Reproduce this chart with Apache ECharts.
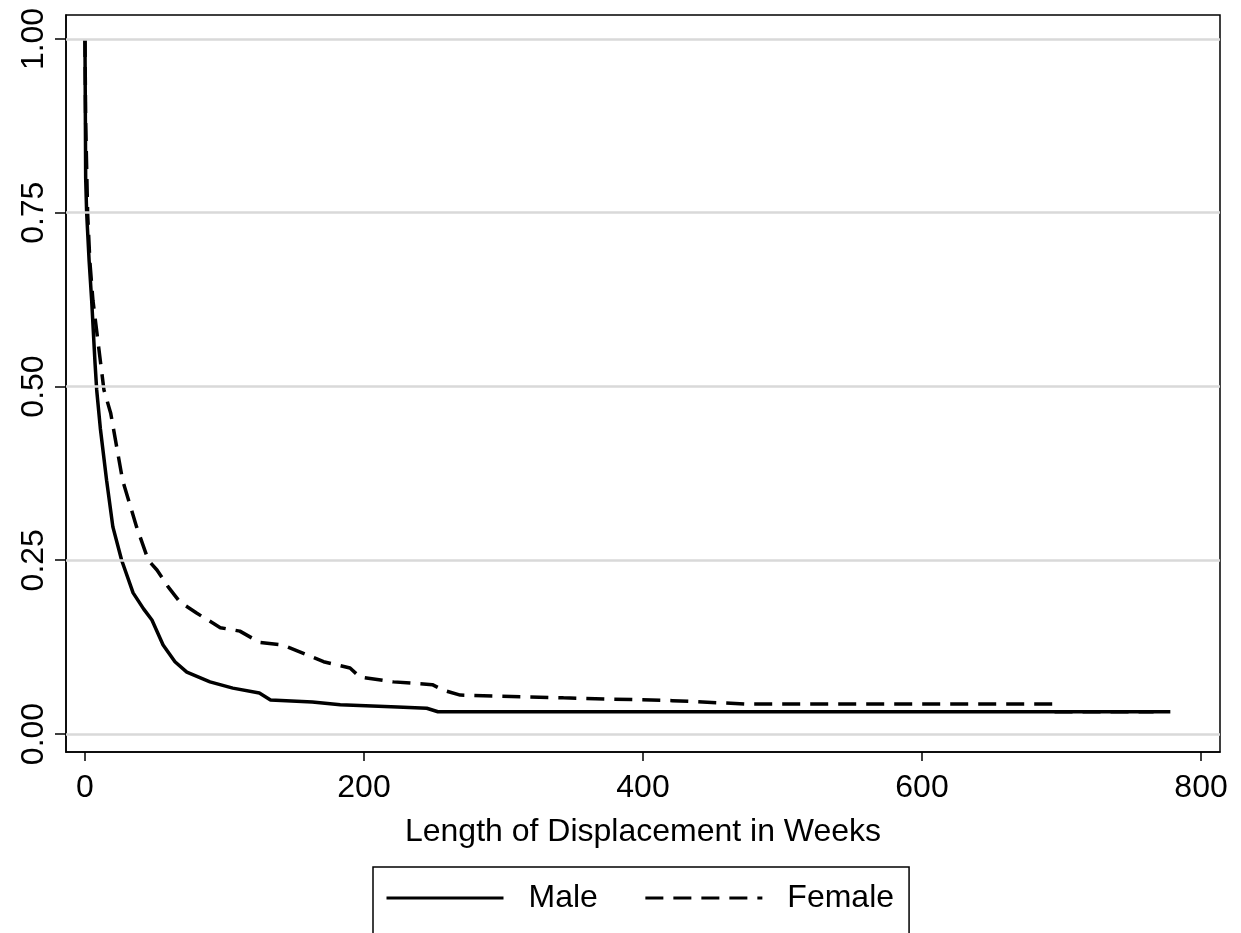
<!DOCTYPE html>
<html>
<head>
<meta charset="utf-8">
<script src="https://cdn.jsdelivr.net/npm/echarts@6/dist/echarts.min.js"></script>
<style>
html, body { margin: 0; padding: 0; background: #fff; }
#chart { width: 1241px; height: 933px; }
</style>
</head>
<body>
<div id="chart"></div>
<script>
// survival estimates (weeks, proportion)
var maleWeeks = [0, 0.5, 1.2, 3, 4.8, 7.2, 8.4, 11, 15.5, 20, 26.3, 34.5, 42, 48, 56, 64.5, 73, 89.6, 106, 125, 133, 163, 183, 224, 245, 253, 778];
var maleSurv  = [1, 0.8, 0.75, 0.68, 0.624, 0.534, 0.495, 0.44, 0.365, 0.298, 0.25, 0.203, 0.18, 0.164, 0.128, 0.104, 0.089, 0.075, 0.066, 0.059, 0.049, 0.046, 0.042, 0.039, 0.037, 0.032, 0.032];

var femaleWeeks = [0, 0.5, 1.9, 3.5, 5.7, 11.2, 13.6, 18.4, 27, 37, 45.4, 51.6, 59.5, 68, 80, 97, 111, 125, 142, 159, 171, 190, 197, 221, 235, 249, 257, 269, 343, 421, 476, 695, 695, 766];
var femaleSurv  = [1, 0.88, 0.75, 0.68, 0.624, 0.534, 0.495, 0.462, 0.365, 0.298, 0.25, 0.236, 0.212, 0.19, 0.174, 0.153, 0.148, 0.132, 0.128, 0.114, 0.104, 0.095, 0.082, 0.075, 0.073, 0.071, 0.063, 0.056, 0.052, 0.048, 0.043, 0.043, 0.032, 0.032];

var xTicks = [0, 200, 400, 600, 800];
var yTicks = [0, 0.25, 0.5, 0.75, 1];

function pairs(xs, ys) {
  var out = [];
  for (var i = 0; i < xs.length; i++) out.push([xs[i], ys[i]]);
  return out;
}

var font = 'Liberation Sans, Arial, sans-serif';
var chart = echarts.init(document.getElementById('chart'));

chart.setOption({
  animation: false,
  backgroundColor: '#fff',
  grid: {
    left: 66, right: 21, top: 15, bottom: 181,
    show: true, borderColor: '#000', borderWidth: 1.5
  },
  xAxis: {
    type: 'value',
    min: -13.6, max: 813.6,
    name: 'Length of Displacement in Weeks',
    nameLocation: 'middle',
    nameGap: 64,
    nameTextStyle: { fontSize: 32, color: '#000', fontFamily: font },
    axisLine: { show: true, onZero: false, lineStyle: { color: '#000', width: 1.5 } },
    axisTick: {
      show: true, inside: false, length: 9, lineStyle: { color: '#000', width: 1.5 },
      customValues: xTicks
    },
    axisLabel: {
      fontSize: 32, color: '#000', fontFamily: font, margin: 20,
      customValues: xTicks
    },
    splitLine: { show: false }
  },
  yAxis: {
    type: 'value',
    min: -0.0259, max: 1.0345,
    axisLine: { show: true, onZero: false, lineStyle: { color: '#000', width: 1.5 } },
    axisTick: {
      show: true, inside: false, length: 11, lineStyle: { color: '#000', width: 1.5 },
      customValues: yTicks
    },
    axisLabel: {
      fontSize: 32, color: '#000', fontFamily: font, margin: 16, rotate: 90,
      customValues: yTicks,
      formatter: function (v) { return v.toFixed(2); }
    },
    splitLine: { show: false }
  },
  legend: {
    left: 373, top: 867,
    orient: 'horizontal',
    borderColor: '#000', borderWidth: 1.5,
    padding: [15, 15, 20, 12],
    itemWidth: 117, itemHeight: 20, itemGap: 46,
    itemStyle: { opacity: 0 },
    lineStyle: { width: 3 },
    textStyle: { fontSize: 32, color: '#000', fontFamily: font, padding: [0, 0, 0, 20] },
    data: ['Male', 'Female']
  },
  series: [
    {
      // horizontal reference lines
      type: 'line', silent: true, data: [],
      markLine: {
        symbol: 'none', silent: true, label: { show: false },
        lineStyle: { color: '#d9d9d9', width: 2.5, type: 'solid' },
        data: yTicks.map(function (v) { return { yAxis: v }; })
      },
      z: 1
    },
    {
      name: 'Female',
      type: 'line',
      data: pairs(femaleWeeks, femaleSurv),
      showSymbol: false, symbol: 'none',
      lineStyle: { color: '#000', width: 3.5, type: [18, 10] },
      itemStyle: { color: '#000' },
      z: 2
    },
    {
      name: 'Male',
      type: 'line',
      data: pairs(maleWeeks, maleSurv),
      showSymbol: false, symbol: 'none',
      lineStyle: { color: '#000', width: 3.5, type: 'solid' },
      itemStyle: { color: '#000' },
      z: 3
    }
  ]
});
</script>
</body>
</html>
